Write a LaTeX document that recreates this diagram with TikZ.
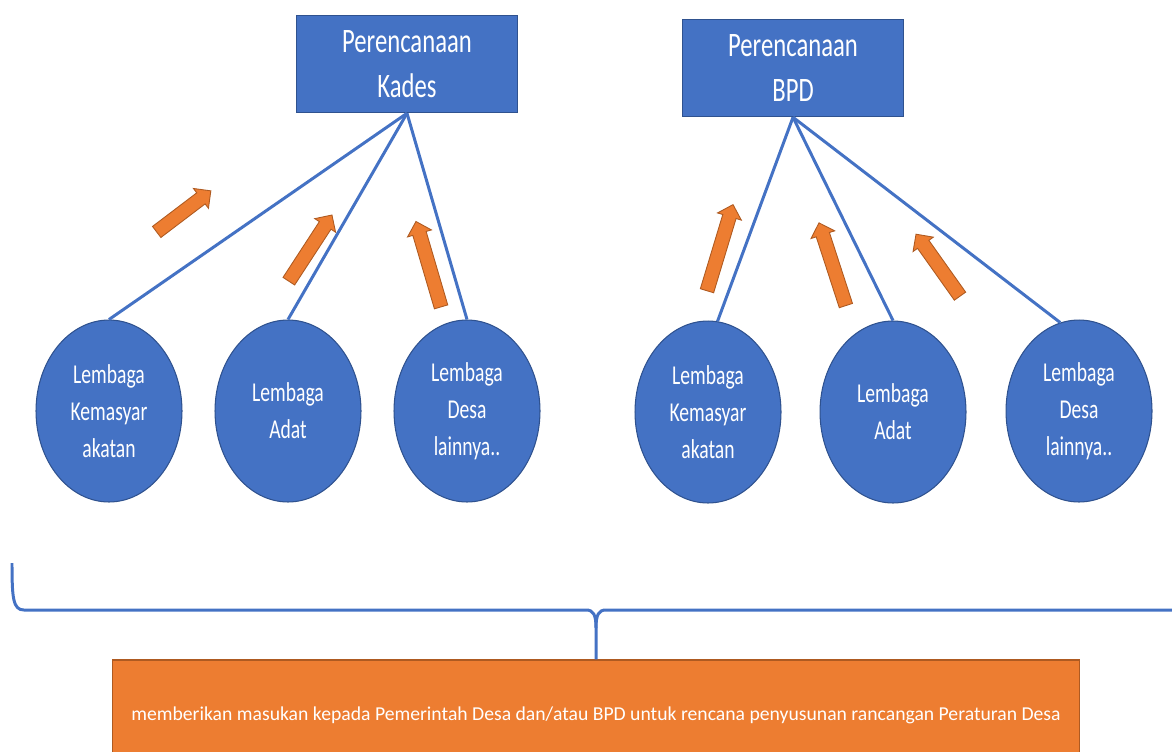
\documentclass[tikz,border=0pt]{standalone}
\usepackage{fontspec}
\setmainfont{Carlito}
\newfontfamily\narrowfont{Carlito}[FakeStretch=0.72]
\usetikzlibrary{shapes.geometric,shapes.arrows}
\definecolor{boxblue}{HTML}{4472C4}
\definecolor{boxedge}{HTML}{2F528F}
\definecolor{noteorange}{HTML}{ED7D31}
\definecolor{noteedge}{HTML}{AE5A21}
\begin{document}
\begin{tikzpicture}[x=0.02cm,y=-0.02cm,
    plan/.style={rectangle,fill=boxblue,draw=boxedge,line width=0.6pt,text=white,
      minimum width=4.42cm,minimum height=1.95cm,align=center,
      font=\narrowfont\fontsize{19.5}{25.5}\selectfont},
    lembaga/.style={ellipse,fill=boxblue,draw=boxedge,line width=0.6pt,text=white,
      minimum width=2.92cm,minimum height=3.64cm,inner sep=0pt,align=center,
      font=\narrowfont\fontsize{15.5}{21}\selectfont},
    input/.style={single arrow,fill=noteorange,draw=noteedge,line width=0.5pt,
      inner sep=0.13cm,single arrow head extend=0.11cm,sloped,allow upside down,midway},
    note/.style={rectangle,fill=noteorange,draw=noteedge,line width=0.6pt,text=white,
      minimum width=19.36cm,minimum height=2.2cm,font=\fontsize{11.2}{13}\selectfont},
    link/.style={draw=boxblue,line width=1.7pt}]
  \useasboundingbox (0,0) rectangle (1172,751);
  \clip (0,0) rectangle (1172,751);
  \node[plan] (kades) at (407,64) {Perencanaan\\Kades};
  \node[plan] (bpd) at (793,68) {Perencanaan\\BPD};
  \node[lembaga] (kmasy) at (109,411) {Lembaga\\Kemasyar\\akatan};
  \node[lembaga] (kadat) at (288,411) {Lembaga\\Adat};
  \node[lembaga] (klain) at (467,411) {Lembaga\\Desa\\lainnya..};
  \node[lembaga] (bmasy) at (708,412) {Lembaga\\Kemasyar\\akatan};
  \node[lembaga] (badat) at (893,412) {Lembaga\\Adat};
  \node[lembaga] (blain) at (1079,411) {Lembaga\\Desa\\lainnya..};
  \node[note] (note) at (596,715) {memberikan masukan kepada Pemerintah Desa dan/atau BPD untuk rencana penyusunan rancangan Peraturan Desa};
  \begin{scope}[link]
    \draw (kades.south) to (kmasy.north);
    \draw (kades.south) to (kadat.north);
    \draw (kades.south) to (klain.north);
    \draw (bpd.south) to (bmasy.84);
    \draw (bpd.south) to (badat.north);
    \draw (bpd.south) to (blain.102);
  \end{scope}
  % orange arrows
  \path (154,234) -- node[input,minimum height=1.36cm] {} (208,193);
  \path (287,284) -- node[input,minimum height=1.58cm] {} (330,218);
  \path (442,310) -- node[input,minimum height=1.78cm] {} (417,225);
  \path (706,294) -- node[input,minimum height=1.8cm] {} (732,208);
  \path (847,309) -- node[input,minimum height=1.74cm] {} (820,226);
  \path (962,299) -- node[input,minimum height=1.52cm] {} (918,237);
  % brace
  \coordinate (braceleft) at (12,563);
  \coordinate (braceright) at (1172,610);
  \coordinate (cusp) at (596,628);
  \draw[link] (braceleft) .. controls (12,598) and (13,610) .. (24,610) -- (586,610)
    .. controls (593,610) and (596,614) .. (cusp) -- (note.north);
  \draw[link] (cusp) .. controls (596,614) and (599,610) .. (606,610) -- (braceright);
\end{tikzpicture}
\end{document}
